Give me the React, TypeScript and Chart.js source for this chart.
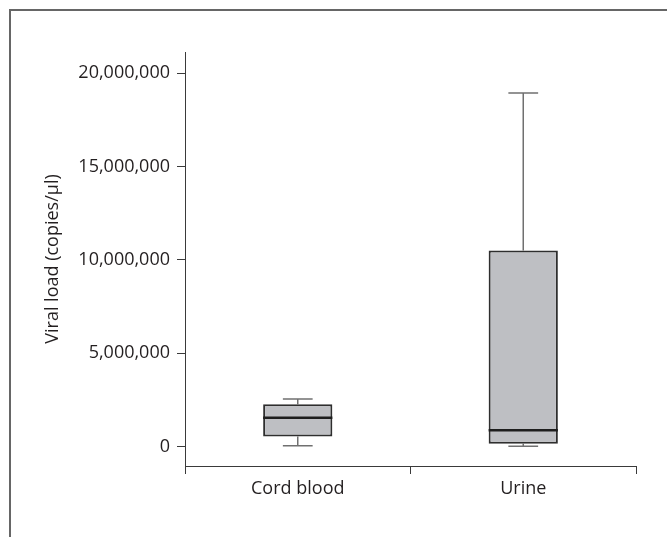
import React, { useEffect, useRef } from 'react';
import { Chart, registerables } from 'chart.js';

Chart.register(...registerables);

const categories = ['Cord blood', 'Urine'];
const whiskerMin = [50000, 20000];
const q1 = [540000, 150000];
const median = [1550000, 880000];
const q3 = [2270000, 10500000];
const whiskerMax = [2550000, 18950000];
const yTicks = [0, 5000000, 10000000, 15000000, 20000000];
const yMin = -1040000;
const yMax = 21140000;
const yTitle = 'Viral load (copies/µl)';

const FONT = '"Open Sans", sans-serif';
const TEXT = '#231f20';
const AXIS = '#3a3a3a';

const boxPlugin = {
  id: 'boxWhiskers',
  beforeDatasetsDraw(chart: any) {
    const ctx = chart.ctx;
    const y = chart.scales.y;
    const meta = chart.getDatasetMeta(0);
    ctx.save();
    ctx.strokeStyle = '#707070';
    ctx.lineWidth = 1.5;
    meta.data.forEach((bar: any, i: number) => {
      const cx = bar.x;
      const cap = bar.width * 0.43;
      const pMax = y.getPixelForValue(whiskerMax[i]);
      const pMin = y.getPixelForValue(whiskerMin[i]);
      ctx.beginPath();
      ctx.moveTo(cx, pMax);
      ctx.lineTo(cx, y.getPixelForValue(q3[i]));
      ctx.moveTo(cx, y.getPixelForValue(q1[i]));
      ctx.lineTo(cx, pMin);
      ctx.moveTo(cx - cap / 2, pMax);
      ctx.lineTo(cx + cap / 2, pMax);
      ctx.moveTo(cx - cap / 2, pMin);
      ctx.lineTo(cx + cap / 2, pMin);
      ctx.stroke();
    });
    ctx.restore();
  },
  afterDatasetsDraw(chart: any) {
    const ctx = chart.ctx;
    const y = chart.scales.y;
    const meta = chart.getDatasetMeta(0);
    ctx.save();
    ctx.strokeStyle = '#1e1e1e';
    ctx.lineWidth = 2.5;
    meta.data.forEach((bar: any, i: number) => {
      const p = y.getPixelForValue(median[i]);
      ctx.beginPath();
      ctx.moveTo(bar.x - bar.width / 2, p);
      ctx.lineTo(bar.x + bar.width / 2, p);
      ctx.stroke();
    });
    ctx.restore();
  },
};

export default function App() {
  const ref = useRef<HTMLCanvasElement | null>(null);

  useEffect(() => {
    if (!ref.current) return;
    const chart = new Chart(ref.current, {
      type: 'bar',
      data: {
        labels: categories,
        datasets: [
          {
            data: categories.map((_, i) => [q1[i], q3[i]]) as any,
            backgroundColor: '#bebfc3',
            borderColor: '#2e2e2e',
            borderWidth: 2,
            borderSkipped: false,
            barPercentage: 0.307,
            categoryPercentage: 1,
          },
        ],
      },
      options: {
        responsive: false,
        animation: false,
        layout: { padding: { top: 52, right: 31, left: 0, bottom: 0 } },
        plugins: { legend: { display: false }, tooltip: { enabled: false } },
        scales: {
          x: {
            offset: true,
            grid: {
              offset: true,
              drawOnChartArea: false,
              drawTicks: true,
              tickLength: 8,
              color: AXIS,
              lineWidth: 1,
            },
            border: { color: AXIS, width: 1 },
            ticks: { font: { family: FONT, size: 18 }, color: TEXT, padding: 4 },
            afterFit: (s: any) => {
              s.height = 71;
            },
          },
          y: {
            min: yMin,
            max: yMax,
            afterBuildTicks: (s: any) => {
              s.ticks = yTicks.map((v) => ({ value: v }));
            },
            grid: {
              drawOnChartArea: false,
              tickLength: 8,
              color: AXIS,
              lineWidth: 1,
            },
            border: { color: AXIS, width: 1 },
            ticks: {
              callback: (v: any) => Number(v).toLocaleString('en-US'),
              font: { family: FONT, size: 18 },
              color: TEXT,
              padding: 7,
            },
            title: {
              display: true,
              text: yTitle,
              font: { family: FONT, size: 18 },
              color: TEXT,
              padding: { top: 42, bottom: 0 },
            },
            afterFit: (s: any) => {
              s.width = 185;
            },
          },
        },
      },
      plugins: [boxPlugin],
    });
    return () => chart.destroy();
  }, []);

  return (
    <div style={{ position: 'fixed', left: 0, top: 0, width: 667, height: 537, background: '#fff' }}>
      <div
        style={{
          position: 'absolute',
          left: 9,
          top: 9,
          right: 0,
          bottom: 0,
          borderTop: '2px solid #666',
          borderLeft: '2px solid #666',
        }}
      />
      <canvas ref={ref} width={667} height={537} style={{ position: 'absolute', left: 0, top: 0 }} />
    </div>
  );
}
